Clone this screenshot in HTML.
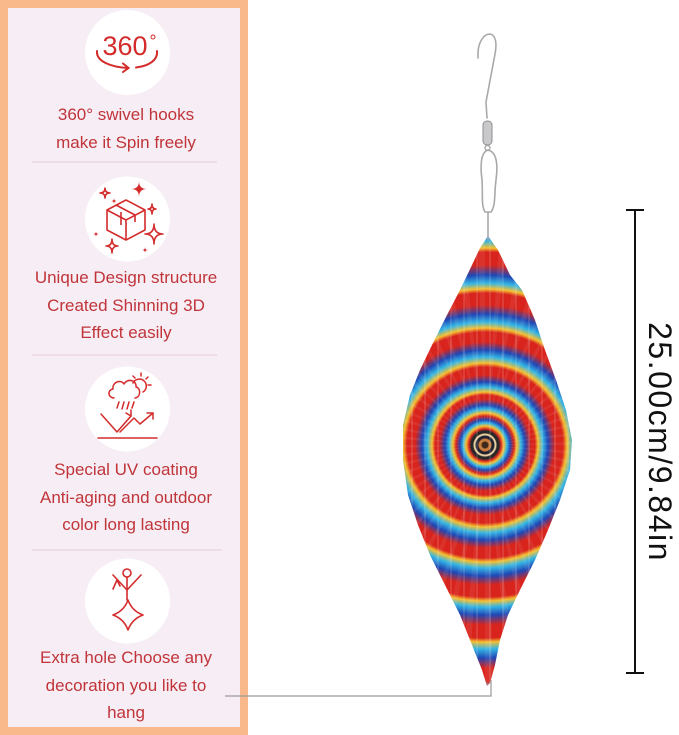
<!DOCTYPE html>
<html>
<head>
<meta charset="utf-8">
<style>
  html,body{margin:0;padding:0;}
  body{width:679px;height:735px;position:relative;overflow:hidden;background:#ffffff;font-family:"Liberation Sans",sans-serif;}
  .panel{position:absolute;left:0;top:0;width:248px;height:735px;background:#f9b98b;}
  .inner{position:absolute;left:8px;top:8px;width:232px;height:719px;background:#f6eef4;}
  .txt{position:absolute;left:8px;width:236px;text-align:center;color:#c0343a;font-size:17px;line-height:27.5px;white-space:nowrap;}
  .spinner{position:absolute;left:400px;top:232px;width:176px;height:456px;
    clip-path:polygon(88px 4px,98px 18px,110px 43px,122px 58px,135px 88px,145px 118px,156px 148px,166px 178px,172px 208px,170px 238px,160px 268px,148px 298px,135px 328px,120px 358px,108px 383px,100px 408px,95px 433px,90px 451px,87px 454px,82px 438px,72px 413px,60px 383px,45px 353px,30px 323px,18px 293px,8px 263px,3px 228px,3px 193px,10px 163px,20px 138px,32px 113px,47px 83px,60px 58px,72px 33px,80px 16px);
    background:
      repeating-linear-gradient(90deg, rgba(255,255,255,0) 0 11px, rgba(255,255,255,0.12) 11px 13px),
      repeating-conic-gradient(from 0deg at 85px 213px, rgba(255,255,255,0) 0deg 4deg, rgba(255,255,255,0.07) 4deg 6deg),
      radial-gradient(circle at 85px 213px,
        #3b2418 0 3px, #c87a3a 4px 6px, #1b1b2a 7px 9px, #e9d0a0 10px 11px, #222 12px 14px,
        #d8241c 16px, #f5c030 19px, #33b5e5 22px, #1f47b5 25px, #d8241c 29px, #f5c030 32px,
        #33b5e5 36px, #1f47b5 40px, #d8241c 46px, #d8241c 50px, #f5c030 53px, #33b5e5 58px, #1f47b5 63px,
        #d8241c 70px, #d8241c 78px, #f5c030 82px, #33b5e5 88px, #1f47b5 95px,
        #d8241c 103px, #d8241c 113px, #f5c030 117px, #33b5e5 123px, #1f47b5 131px,
        #d8241c 140px, #d8241c 152px, #f5c030 156px, #33b5e5 162px, #1f47b5 170px,
        #d8241c 180px, #d8241c 193px, #f5c030 197px, #33b5e5 204px, #1f47b5 213px,
        #d8241c 223px, #d8241c 236px, #5cc0e6 244px, #3a7fd0 252px);
  }
  svg.ov{position:absolute;left:0;top:0;}
</style>
</head>
<body>
<div class="panel"><div class="inner"></div></div>

<div class="txt" style="top:101px;">360° swivel hooks</div>
<div class="txt" style="top:129px;">make it Spin freely</div>

<div class="txt" style="top:264px;">Unique Design structure</div>
<div class="txt" style="top:291.5px;">Created Shinning 3D</div>
<div class="txt" style="top:319px;">Effect easily</div>

<div class="txt" style="top:456px;">Special UV coating</div>
<div class="txt" style="top:483.5px;">Anti-aging and outdoor</div>
<div class="txt" style="top:511px;">color long lasting</div>

<div class="txt" style="top:644px;">Extra hole Choose any</div>
<div class="txt" style="top:671.5px;">decoration you like to</div>
<div class="txt" style="top:699px;">hang</div>

<div class="spinner"></div>

<svg class="ov" width="679" height="735" viewBox="0 0 679 735" xmlns="http://www.w3.org/2000/svg">
  <g stroke="#ead3da" stroke-width="1.2">
    <line x1="32" y1="162" x2="217" y2="162"/>
    <line x1="32" y1="355" x2="217" y2="355"/>
    <line x1="32" y1="550" x2="222" y2="550"/>
  </g>
  <g fill="#ffffff">
    <circle cx="127.5" cy="52.5" r="42.5"/>
    <circle cx="127.5" cy="219" r="42.5"/>
    <circle cx="127.5" cy="409" r="42.5"/>
    <circle cx="127.5" cy="601" r="42.5"/>
  </g>

  <text x="125" y="55" text-anchor="middle" font-family="'Liberation Sans',sans-serif" font-size="27" fill="#d42b2b">360</text>
  <circle cx="153" cy="37" r="2" fill="none" stroke="#d42b2b" stroke-width="1"/>
  <g fill="none" stroke="#d42b2b" stroke-width="2" stroke-linecap="round">
    <path d="M97,51 C96,61 110,67 128,68"/>
    <path d="M123,63.5 L128.5,68 L123,72"/>
    <path d="M136,67.5 C149,66 158,60 157,51"/>
  </g>

  <g fill="none" stroke="#d42b2b" stroke-width="1.6" stroke-linejoin="round">
    <path d="M126,200 L145,210 L145,230 L126,240 L107,230 L107,210 Z"/>
    <path d="M107,210 L126,220 L145,210 M126,220 L126,240"/>
    <path d="M116,205 L135,215 L135,222 M121,225 L121,212"/>
    <path d="M105,188 Q105,193 110,193 Q105,193 105,198 Q105,193 100,193 Q105,193 105,188 Z"/>
    <path d="M152,204 Q152,209 156,209 Q152,209 152,214 Q152,209 148,209 Q152,209 152,204 Z"/>
    <path d="M154,224 Q154,234 163,234 Q154,234 154,244 Q154,234 145,234 Q154,234 154,224 Z"/>
    <path d="M112,239 Q112,246 118,246 Q112,246 112,253 Q112,246 106,246 Q112,246 112,239 Z"/>
  </g>
  <g fill="#d42b2b">
    <path d="M139,181 Q139,189 147,189 Q139,189 139,197 Q139,189 131,189 Q139,189 139,181 Z"/>
    <path d="M96,231 Q96,234 99,234 Q96,234 96,237 Q96,234 93,234 Q96,234 96,231 Z"/>
    <path d="M145,247 Q145,250 148,250 Q145,250 145,253 Q145,250 142,250 Q145,250 145,247 Z"/>
    <path d="M114,198 Q114,201 117,201 Q114,201 114,204 Q114,201 111,201 Q114,201 114,198 Z"/>
  </g>

  <g fill="none" stroke="#d42b2b" stroke-width="1.5" stroke-linecap="round" stroke-linejoin="round">
    <path d="M114,398 C108,398 107,390 113,389 C112,382 121,379 124,384 C127,378 137,380 136,387 C141,388 141,397 135,398"/>
    <path d="M133,383 A7,7 0 1 1 143,392"/>
    <path d="M141,373 L141,376 M148,377 L146,379 M151,385 L148,385 M133,376 L135,378"/>
    <path d="M119,402 L117,408 M124,402 L122,409 M129,402 L127,409 M134,402 L132,408"/>
    <path d="M101,414 L117,432 L131,416"/>
    <path d="M126,413 L131,416 L131,410"/>
    <path d="M120,432 L134,418 L140,424 L153,413"/>
    <path d="M147,413 L153,413 L153,419"/>
    <path d="M98,438 L157,438"/>
  </g>

  <g fill="none" stroke="#d42b2b" stroke-width="1.6" stroke-linecap="round" stroke-linejoin="round">
    <circle cx="127" cy="573" r="4"/>
    <path d="M113,575 L127,590 L141,575"/>
    <path d="M113,589 L117,580 L120,586"/>
    <path d="M127,577 L127,600"/>
    <path d="M128,600 Q132,611 143,615 Q132,619 128,630 Q124,619 113,615 Q124,611 128,600 Z"/>
  </g>

  <path d="M225,696 L491,696 L491,680" fill="none" stroke="#9a9a9a" stroke-width="1.2"/>

  <g fill="none" stroke="#a9a9ab" stroke-width="1.6" stroke-linecap="round">
    <path d="M478,58 C477,42 484,34 490,34 C496,35 497,44 495,54 L486,102 L487,118"/>
    <path d="M488,150 C481,152 480,165 482,180 C483,195 481,205 485,212 L491,212 C496,205 494,195 496,180 C498,165 497,152 488,150"/>
    <path d="M488,212 L488,240"/>
  </g>
  <rect x="483" y="121" width="9" height="24" rx="4" fill="#c9c9cb" stroke="#8e8e90" stroke-width="1"/>
  <circle cx="487.5" cy="148" r="2.5" fill="none" stroke="#a0a0a2" stroke-width="1.2"/>

  <g stroke="#111" stroke-width="2">
    <line x1="635" y1="210" x2="635" y2="673"/>
    <line x1="626" y1="210" x2="644" y2="210"/>
    <line x1="626" y1="673" x2="644" y2="673"/>
  </g>
  <text transform="translate(660,442) rotate(90)" text-anchor="middle" dominant-baseline="central" font-family="'Liberation Sans',sans-serif" font-size="32" letter-spacing="1.5" fill="#111">25.00cm/9.84in</text>
</svg>
</body>
</html>
